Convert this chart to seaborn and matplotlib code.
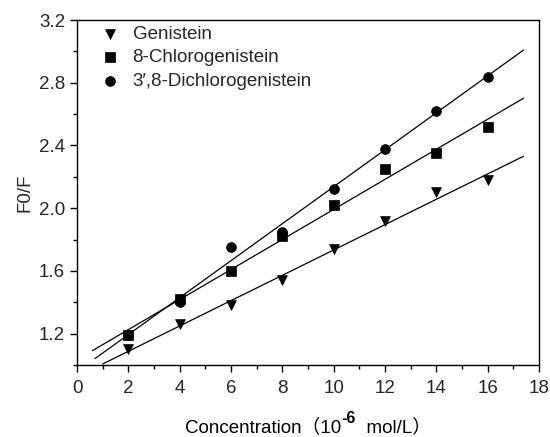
import numpy as np
import pandas as pd
import matplotlib
matplotlib.use("Agg")
import matplotlib.pyplot as plt
import seaborn as sns
from matplotlib.ticker import MultipleLocator
from matplotlib.offsetbox import TextArea, HPacker, VPacker, DrawingArea, AnchoredOffsetbox

conc = [2, 4, 6, 8, 10, 12, 14, 16]
genistein = [1.10, 1.26, 1.38, 1.54, 1.74, 1.92, 2.10, 2.18]
chloro = [1.19, 1.42, 1.60, 1.82, 2.02, 2.25, 2.35, 2.52]
dichloro = [1.19, 1.40, 1.75, 1.85, 2.12, 2.38, 2.62, 2.84]
names = ["Genistein", "8-Chlorogenistein", "3\u2032,8-Dichlorogenistein"]
markers = ["v", "s", "o"]
line_ranges = [(1.0, 17.4), (0.6, 17.4), (0.7, 17.4)]

sns.set_theme(style="ticks")
fam = ['Liberation Sans', 'Noto Sans CJK SC', 'DejaVu Sans']
plt.rcParams['font.family'] = fam

fig = plt.figure(figsize=(5.5, 4.37), dpi=100)
ax = fig.add_axes([0.14, 0.165, 0.84, 0.789])

for name, vals, mk, (x0, x1) in zip(names, [genistein, chloro, dichloro], markers, line_ranges):
    df = pd.DataFrame({"x": conc, "y": vals})
    sns.scatterplot(data=df, x="x", y="y", marker=mk, color="black", s=50,
                    edgecolor="black", linewidth=0.5, ax=ax, label=name, zorder=3)
    k, b = np.polyfit(conc, vals, 1)
    xs = np.array([x0, x1])
    sns.lineplot(x=xs, y=k * xs + b, color="black", lw=0.9, ax=ax, legend=False)

ax.set_xlim(0, 18)
ax.set_ylim(1.0, 3.2)
ax.xaxis.set_major_locator(MultipleLocator(2))
ax.xaxis.set_minor_locator(MultipleLocator(1))
ax.set_yticks([1.2, 1.6, 2.0, 2.4, 2.8, 3.2])
ax.yaxis.set_minor_locator(MultipleLocator(0.2))
ax.tick_params(which="major", direction="out", length=5, width=1, labelsize=13.5, color="black")
ax.tick_params(axis="x", which="major", pad=6)
ax.tick_params(which="minor", direction="out", length=3, width=1, color="black")
for s in ax.spines.values():
    s.set_linewidth(1)
    s.set_color("black")
ax.set_xlabel("")
ax.set_ylabel("F0/F", fontsize=13.5, labelpad=4)

# x label composed of pieces: fullwidth parentheses + superscript
tp = dict(fontsize=13.5, family=fam, color="black")
t1 = TextArea("Concentration\uff0810", textprops=tp)
t2 = TextArea("-6", textprops=dict(fontsize=11.5, family=fam, fontweight="bold", color="black"))
sup = VPacker(children=[t2, DrawingArea(1, 7)], align="left", pad=0, sep=0)
t3 = TextArea("  mol/L\uff09", textprops=tp)
box = HPacker(children=[t1, sup, t3], align="bottom", pad=0, sep=0)
anch = AnchoredOffsetbox(loc="upper center", child=box, pad=0, borderpad=0, frameon=False,
                         bbox_to_anchor=(0.5, -0.135), bbox_transform=ax.transAxes)
ax.add_artist(anch)

ax.legend(loc="upper left", frameon=False, fontsize=13.5, handlelength=1.0, handletextpad=0.7,
          borderaxespad=0.0, labelspacing=0.35, bbox_to_anchor=(0.035, 1.006))
fig.savefig("out.png", dpi=100)
